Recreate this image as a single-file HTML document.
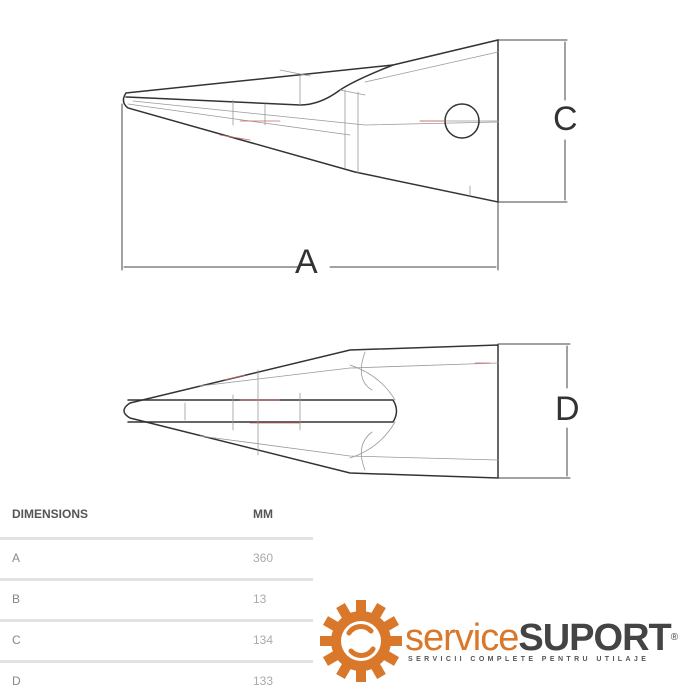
<!DOCTYPE html>
<html><head><style>
body{margin:0;background:#fff;width:700px;height:700px;overflow:hidden;position:relative;font-family:"Liberation Sans",sans-serif}
.t{position:absolute;font-size:12px;color:#888}
.h{font-weight:bold;color:#555;font-size:12px}
.ln{position:absolute;left:0;width:313px;height:3px;background:#e2e2e2}
</style></head><body>
<svg width="700" height="700" style="position:absolute;left:0;top:0" fill="none" stroke-linecap="round">
<!-- top view -->
<g stroke="#333" stroke-width="1.5">
<path d="M126,93 L393,65 L498,40 L498,202 L355,172 L128,108 Q120,102 126,93Z"/>
<path d="M126,97 L300,105 Q320,105 340,90 Q355,80 393,65"/>
</g>
<g stroke="#999" stroke-width="0.8">
<path d="M128,104 L350,135 M133,101 L365,125 L498,122 M365,82 L498,52 M340,90 L365,95 M233,100 L233,125 M265,104 L265,125 M300,76 L300,105 M345,90 L345,168 M358,92 L358,173 M470,186 L470,196 M280,70 L310,76"/>
<line x1="420" y1="121" x2="498" y2="121"/>
</g>
<circle cx="462" cy="121" r="17" stroke="#333" stroke-width="1.5"/>
<path d="M240,121 L280,121 M420,121 L445,121 M220,135 L250,140" stroke="#c66" stroke-width="0.8"/>
<!-- dims top -->
<g stroke="#444" stroke-width="1">
<path d="M498,40 L567,40 M498,202 L567,202 M565,42 L565,100 M565,140 L565,200"/>
<path d="M122,104 L122,270 M498,202 L498,270 M124,267 L300,267 M330,267 L496,267"/>
</g>
<!-- bottom view -->
<g stroke="#333" stroke-width="1.5">
<path d="M130,403 L350,350 L498,345 L498,478 L350,473 L130,418 Q118,411 130,403Z"/>
<path d="M128,400 L393,400 Q400,411 393,422 L128,422"/>
</g>
<g stroke="#999" stroke-width="0.8">
<path d="M200,386 L350,368 L498,363 M200,436 L350,456 L498,460 M300,393 L300,430 M233,395 L233,430 M185,403 L185,420 M350,365 Q380,375 395,400 M350,458 Q380,448 395,422 M365,352 Q355,380 372,390 M365,470 Q355,445 372,432 M258,370 L258,455"/>
</g>
<path d="M240,400 L280,400 M250,423 L300,423 M225,380 L245,375 M475,363 L490,363" stroke="#c66" stroke-width="0.8"/>
<g stroke="#444" stroke-width="1">
<path d="M498,344 L570,344 M498,478 L570,478 M567,346 L567,388 M567,428 L567,476"/>
</g>
<!-- gear -->
<g transform="translate(361,641)">
<g fill="#d9772a">
<circle r="30"/>
<g id="tt"><rect x="-5" y="-41" width="10" height="14"/></g>
<use href="#tt" transform="rotate(30)"/><use href="#tt" transform="rotate(60)"/><use href="#tt" transform="rotate(90)"/><use href="#tt" transform="rotate(120)"/><use href="#tt" transform="rotate(150)"/><use href="#tt" transform="rotate(180)"/><use href="#tt" transform="rotate(210)"/><use href="#tt" transform="rotate(240)"/><use href="#tt" transform="rotate(270)"/><use href="#tt" transform="rotate(300)"/><use href="#tt" transform="rotate(330)"/>
</g>
<circle r="20" fill="#fff"/>
<path d="M-12,-8 A14,14 0 0 1 10,-10 M12,8 A14,14 0 0 1 -10,10" stroke="#d9772a" stroke-width="5"/>
</g>
</svg>
<div style="position:absolute;left:295px;top:243px;font-size:34px;color:#333">A</div>
<div style="position:absolute;left:553px;top:100px;font-size:34px;color:#333">C</div>
<div style="position:absolute;left:555px;top:390px;font-size:34px;color:#333">D</div>
<div class="t h" style="left:12px;top:507px">DIMENSIONS</div>
<div class="t h" style="left:253px;top:507px">MM</div>
<div class="ln" style="top:537px"></div>
<div class="ln" style="top:578px"></div>
<div class="ln" style="top:619px"></div>
<div class="ln" style="top:660px"></div>
<div class="t" style="left:12px;top:551px">A</div><div class="t" style="left:253px;top:551px;color:#aaa">360</div>
<div class="t" style="left:12px;top:592px">B</div><div class="t" style="left:253px;top:592px;color:#aaa">13</div>
<div class="t" style="left:12px;top:633px">C</div><div class="t" style="left:253px;top:633px;color:#aaa">134</div>
<div class="t" style="left:12px;top:674px">D</div><div class="t" style="left:253px;top:674px;color:#aaa">133</div>
<div style="position:absolute;left:405px;top:618px;font-size:38px;line-height:40px;letter-spacing:-1px;white-space:nowrap"><span style="color:#d9772a">service</span><span style="color:#444;font-weight:bold">SUPORT</span><span style="font-size:10px;vertical-align:top;color:#444">®</span></div>
<div style="position:absolute;left:408px;top:656px;font-size:7px;font-weight:bold;letter-spacing:3.4px;color:#555;white-space:nowrap">SERVICII COMPLETE PENTRU UTILAJE</div>
</body></html>
